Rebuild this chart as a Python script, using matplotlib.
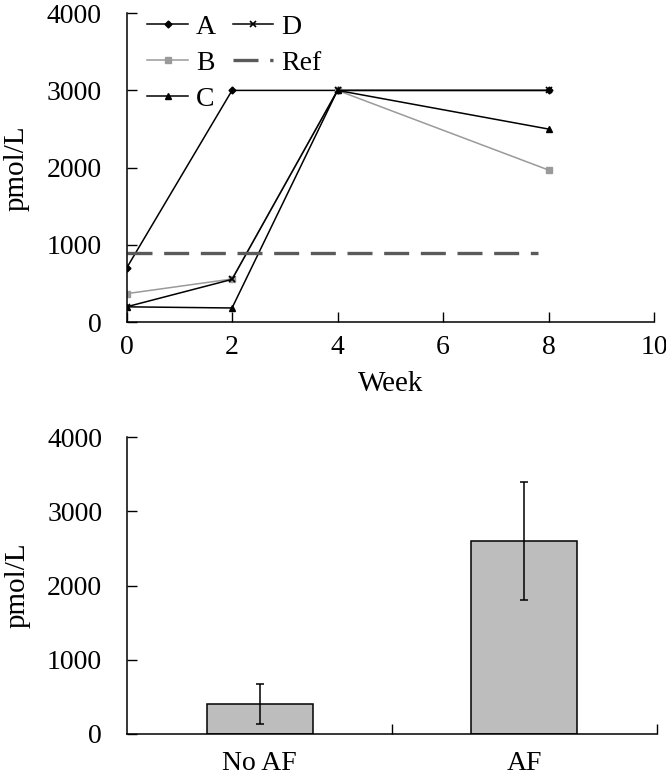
import matplotlib
matplotlib.use("Agg")
import matplotlib.pyplot as plt

plt.rcParams['font.family'] = ['Liberation Serif', 'DejaVu Serif']

# line chart data
weeks = [0, 2, 4, 8]
a_vals = [700, 3000, 3000, 3000]
b_vals = [370, 560, 3000, 1970]
c_vals = [200, 185, 3000, 2500]
d_vals = [200, 555, 3000, 3000]
ref_x = [0, 7.8]
ref_vals = [900, 900]

# bar chart data
groups = ['No AF', 'AF']
bar_vals = [400, 2600]
bar_err = [270, 800]

fig = plt.figure(figsize=(6.66, 7.71), dpi=100)
ax1 = fig.add_axes([0.190, 0.582, 0.792, 0.401])
ax2 = fig.add_axes([0.191, 0.048, 0.795, 0.385])

ax1.plot(weeks, a_vals, color='black', lw=1.1, marker='D', ms=3.5, label='A')
ax1.plot(weeks, b_vals, color='#9a9a9a', lw=1.1, marker='s', ms=4.5, label='B')
ax1.plot(weeks, c_vals, color='black', lw=1.1, marker='^', ms=5, label='C')
ax1.plot(weeks, d_vals, color='black', lw=1.1, marker='x', ms=5, mew=1.2, label='D')
ax1.plot(ref_x, ref_vals, color='#5a5a5a', lw=2.4, dashes=(7.5, 3.5), label='Ref')

ax1.set_xlim(0, 10)
ax1.set_ylim(0, 4000)
ax1.set_xticks([0, 2, 4, 6, 8, 10])
ax1.set_yticks([0, 1000, 2000, 3000, 4000])
ax1.set_xlabel('Week', fontsize=21, labelpad=8)
ax1.set_ylabel('pmol/L', fontsize=21, labelpad=12)
ax1.tick_params(axis='x', direction='in', length=7, width=1, labelsize=20, pad=9)
ax1.tick_params(axis='y', direction='in', length=7, width=1, labelsize=20, pad=18)
for side in ['top', 'right']:
    ax1.spines[side].set_visible(False)
for side in ['left', 'bottom']:
    ax1.spines[side].set_linewidth(1.1)
ax1.legend(loc='upper left', bbox_to_anchor=(0.008, 1.05), ncol=2, frameon=False,
           fontsize=20, handlelength=1.45, handletextpad=0.3, labelspacing=0.38,
           columnspacing=0.6, borderaxespad=0.2)

xpos = list(range(len(groups)))
ax2.bar(xpos, bar_vals, width=0.4, color='#bdbdbd', edgecolor='black', lw=1.1,
        yerr=bar_err, error_kw=dict(ecolor='black', elinewidth=1.1, capsize=3, capthick=1.1))
ax2.set_xlim(-0.5, 1.5)
ax2.set_ylim(0, 4000)
ax2.set_yticks([0, 1000, 2000, 3000, 4000])
ax2.set_xticks(xpos)
ax2.set_xticklabels(groups)
ax2.set_xticks([0.5, 1.5], minor=True)
ax2.set_ylabel('pmol/L', fontsize=21, labelpad=12)
ax2.tick_params(axis='x', which='major', length=0, labelsize=20, pad=12)
ax2.tick_params(axis='x', which='minor', direction='in', length=7, width=1)
ax2.tick_params(axis='y', direction='in', length=7, width=1, labelsize=20, pad=18)
for side in ['top', 'right']:
    ax2.spines[side].set_visible(False)
for side in ['left', 'bottom']:
    ax2.spines[side].set_linewidth(1.1)

fig.savefig('out.png', dpi=100)
